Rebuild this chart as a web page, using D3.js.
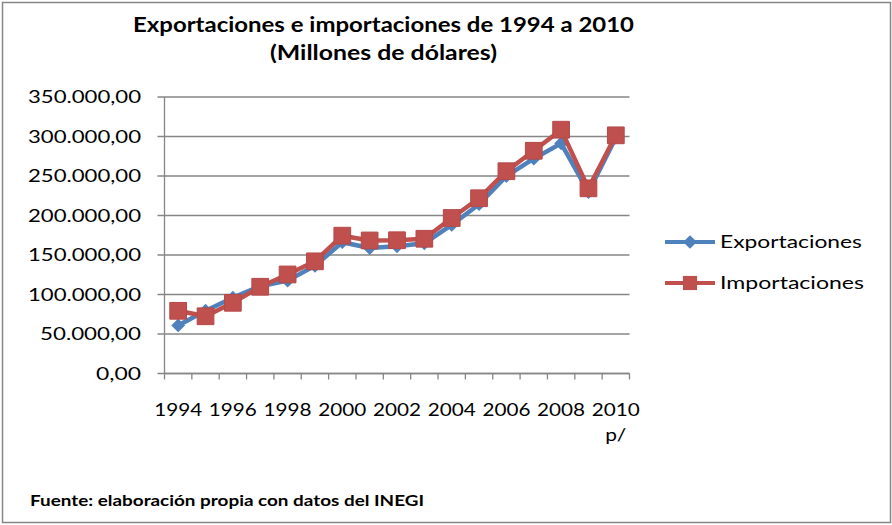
<!DOCTYPE html>
<html lang="es">
<head>
  <meta charset="UTF-8" />
  <title>Exportaciones e importaciones</title>
  <style>
    body {
      margin: 0;
      background: #fff;
      font-family: Lato, "Open Sans", sans-serif;
    }
    .grid line {
      stroke: #868686;
      stroke-width: 1.3px;
    }
    .axis path, .axis line {
      stroke: #868686;
      stroke-width: 1.3px;
    }
    .tick-label {
      font-size: 18px;
      fill: #000;
    }
  </style>
  <script src="https://d3js.org/d3.v7.min.js"></script>
</head>
<body>
  <div id="chart"></div>
  <script>
    const width = 892;
    const height = 525;

    // Data (millones de dólares)
    const years = ["1994", "1995", "1996", "1997", "1998", "1999", "2000", "2001", "2002",
                   "2003", "2004", "2005", "2006", "2007", "2008", "2009", "2010"];
    const exportaciones = [60882, 79542, 95999, 110431, 117539, 136362, 166121, 158780, 161046,
                           164766, 187999, 214233, 249925, 271875, 291343, 229704, 298473];
    const importaciones = [79346, 72453, 89469, 109808, 125373, 141975, 174458, 168396, 168679,
                           170546, 196810, 221820, 256058, 281949, 308603, 234385, 301482];
    const yTicks = [0, 50000, 100000, 150000, 200000, 250000, 300000, 350000];
    const xLabels = {"1994": ["1994"], "1996": ["1996"], "1998": ["1998"], "2000": ["2000"],
                     "2002": ["2002"], "2004": ["2004"], "2006": ["2006"], "2008": ["2008"],
                     "2010": ["2010", "p/"]};

    const blue = "#4F81BD";
    const red = "#C0504D";

    const esLocale = d3.formatLocale({decimal: ",", thousands: ".", grouping: [3], currency: ["$", ""]});
    const fmt = esLocale.format(",.2f");

    const svg = d3.select("#chart")
      .append("svg")
      .attr("width", width)
      .attr("height", height);

    // outer border
    svg.append("rect")
      .attr("x", 2.5).attr("y", 2.5)
      .attr("width", 888).attr("height", 520)
      .attr("fill", "#fff")
      .attr("stroke", "#878787")
      .attr("stroke-width", 1.5);

    const plot = {left: 164.5, right: 629.5, top: 97, bottom: 373.5};

    const x = d3.scaleBand()
      .domain(years)
      .range([plot.left, plot.right]);

    const y = d3.scaleLinear()
      .domain([0, 350000])
      .range([plot.bottom, plot.top]);

    const cx = d => x(d) + x.bandwidth() / 2;

    // gridlines
    svg.append("g")
      .attr("class", "grid")
      .selectAll("line")
      .data(yTicks)
      .enter()
      .append("line")
      .attr("x1", plot.left - 7)
      .attr("x2", plot.right)
      .attr("y1", d => y(d))
      .attr("y2", d => y(d));

    // y axis line
    svg.append("g")
      .attr("class", "axis")
      .append("line")
      .attr("x1", plot.left).attr("x2", plot.left)
      .attr("y1", plot.top).attr("y2", plot.bottom);

    // y labels
    svg.append("g")
      .selectAll("text")
      .data(yTicks)
      .enter()
      .append("text")
      .attr("class", "tick-label")
      .attr("x", 141)
      .attr("y", d => y(d))
      .attr("dy", "0.36em")
      .attr("text-anchor", "end")
      .attr("textLength", d => d === 0 ? 45 : (d < 100000 ? 101 : 113))
      .attr("lengthAdjust", "spacingAndGlyphs")
      .text(d => fmt(d));

    // x axis with boundary ticks
    const xAxis = svg.append("g").attr("class", "axis");
    xAxis.append("line")
      .attr("x1", plot.left).attr("x2", plot.right)
      .attr("y1", plot.bottom).attr("y2", plot.bottom);
    xAxis.selectAll(".xt")
      .data(years.concat(["end"]))
      .enter()
      .append("line")
      .attr("class", "xt")
      .attr("x1", (d, i) => plot.left + i * x.bandwidth())
      .attr("x2", (d, i) => plot.left + i * x.bandwidth())
      .attr("y1", plot.bottom)
      .attr("y2", plot.bottom + 6);

    // x labels
    const xl = svg.append("g")
      .selectAll("text")
      .data(Object.keys(xLabels))
      .enter()
      .append("text")
      .attr("class", "tick-label")
      .attr("text-anchor", "middle")
      .attr("y", 415.5);
    xl.selectAll("tspan")
      .data(d => xLabels[d].map(t => ({year: d, t: t})))
      .enter()
      .append("tspan")
      .attr("x", d => cx(d.year))
      .attr("dy", (d, i) => i === 0 ? 0 : 25)
      .attr("textLength", d => d.t === "p/" ? 21 : 48)
      .attr("lengthAdjust", "spacingAndGlyphs")
      .text(d => d.t);

    const line = d3.line()
      .x((d, i) => cx(years[i]))
      .y(d => y(d));

    const diamond = d3.symbol().type(d3.symbolDiamond2).size(120);
    const square = d3.symbol().type(d3.symbolSquare).size(280);

    // Exportaciones
    svg.append("path")
      .datum(exportaciones)
      .attr("fill", "none")
      .attr("stroke", blue)
      .attr("stroke-width", 4.5)
      .attr("stroke-linejoin", "round")
      .attr("d", line);
    svg.append("g")
      .selectAll("path")
      .data(exportaciones)
      .enter()
      .append("path")
      .attr("transform", (d, i) => `translate(${cx(years[i])},${y(d)})`)
      .attr("d", diamond)
      .attr("fill", blue);

    // Importaciones
    svg.append("path")
      .datum(importaciones)
      .attr("fill", "none")
      .attr("stroke", red)
      .attr("stroke-width", 4.5)
      .attr("stroke-linejoin", "round")
      .attr("d", line);
    svg.append("g")
      .selectAll("path")
      .data(importaciones)
      .enter()
      .append("path")
      .attr("transform", (d, i) => `translate(${cx(years[i])},${y(d)})`)
      .attr("d", square)
      .attr("fill", red)
      .attr("stroke", "#b5494a")
      .attr("stroke-width", 1);

    // legend
    const legend = [
      {name: "Exportaciones", color: blue, sym: diamond, y: 242, len: 142},
      {name: "Importaciones", color: red, sym: d3.symbol().type(d3.symbolSquare).size(200), y: 283, len: 144}
    ];
    const lg = svg.append("g")
      .selectAll("g")
      .data(legend)
      .enter()
      .append("g")
      .attr("transform", d => `translate(0,${d.y})`);
    lg.append("line")
      .attr("x1", 665).attr("x2", 715)
      .attr("stroke", d => d.color)
      .attr("stroke-width", 4);
    lg.append("path")
      .attr("transform", "translate(690,0)")
      .attr("d", d => d.sym())
      .attr("fill", d => d.color);
    lg.append("text")
      .attr("class", "tick-label")
      .attr("x", 720)
      .attr("dy", "0.36em")
      .attr("textLength", d => d.len)
      .attr("lengthAdjust", "spacingAndGlyphs")
      .text(d => d.name);

    // title
    const title = svg.append("text")
      .attr("text-anchor", "middle")
      .attr("font-weight", "bold")
      .attr("font-size", 20);
    title.append("tspan")
      .attr("x", 383.5).attr("y", 32)
      .attr("textLength", 501)
      .attr("lengthAdjust", "spacingAndGlyphs")
      .text("Exportaciones e importaciones de 1994 a 2010");
    title.append("tspan")
      .attr("x", 383.5).attr("y", 60)
      .attr("textLength", 227)
      .attr("lengthAdjust", "spacingAndGlyphs")
      .text("(Millones de dólares)");

    // source note
    svg.append("text")
      .attr("x", 30)
      .attr("y", 506)
      .attr("font-weight", "bold")
      .attr("font-size", 14.5)
      .attr("textLength", 394)
      .attr("lengthAdjust", "spacingAndGlyphs")
      .text("Fuente: elaboración propia con datos del INEGI");
  </script>
</body>
</html>
